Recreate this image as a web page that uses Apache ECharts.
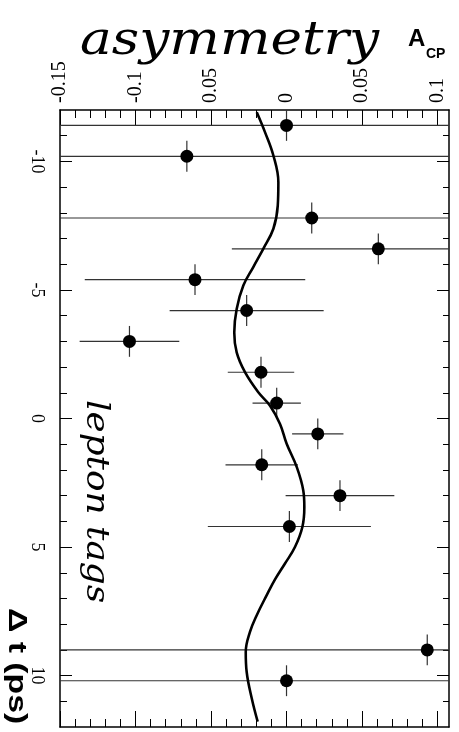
<!DOCTYPE html>
<html>
<head>
<meta charset="utf-8">
<script src="https://cdn.jsdelivr.net/npm/echarts@6/dist/echarts.min.js"></script>
<style>
html,body{margin:0;padding:0;background:#fff;}
#chart{width:459px;height:732px;}
</style>
</head>
<body>
<div id="chart"></div>
<script>
// ---- data ----
var dtCenters = [-11.4, -10.2, -7.8, -6.6, -5.4, -4.2, -3.0, -1.8, -0.6, 0.6, 1.8, 3.0, 4.2, 9.0, 10.2];
var acpValues = [0.000, -0.066, 0.0167, 0.0608, -0.0606, -0.0264, -0.104, -0.0169, -0.0065, 0.0207, -0.0164, 0.0354, 0.0019, 0.0932, 0.000];
var acpErrors = [0.3, 0.3, 0.3, 0.097, 0.073, 0.051, 0.033, 0.022, 0.016, 0.017, 0.024, 0.036, 0.054, 0.3, 0.3];
var dtHalfWidths = [0.6, 0.6, 0.6, 0.6, 0.6, 0.6, 0.6, 0.6, 0.6, 0.6, 0.6, 0.6, 0.6, 0.6, 0.6];

var fitT = [-11.91, -11.13, -10.23, -9.19, -8.28, -7.38, -6.60, -5.89, -5.17, -4.26, -3.35, -2.57, -1.80, -1.02, -0.50, 0.21, 0.98, 1.89, 2.80, 3.44, 4.22, 5.00, 5.64, 6.26, 6.87, 7.65, 8.30, 9.08, 9.85, 10.89, 11.79];
var fitA = [-0.0197, -0.0142, -0.0087, -0.0054, -0.0058, -0.0087, -0.0154, -0.0220, -0.0286, -0.0330, -0.0346, -0.0330, -0.0275, -0.0187, -0.0109, -0.0043, 0.0001, 0.0068, 0.0111, 0.0118, 0.0105, 0.0056, -0.0010, -0.0076, -0.0131, -0.0197, -0.0242, -0.0270, -0.0264, -0.0230, -0.0191];

var xTickValues = [-0.15, -0.1, -0.05, 0, 0.05, 0.1];
var xTickLabels = ['-0.15', '-0.1', '0.05', '0', '0.05', '0.1'];
var xMinorTicks = [-0.15, -0.14, -0.13, -0.12, -0.11, -0.1, -0.09, -0.08, -0.07, -0.06, -0.05, -0.04, -0.03, -0.02, -0.01, 0, 0.01, 0.02, 0.03, 0.04, 0.05, 0.06, 0.07, 0.08, 0.09, 0.1];
var yTickValues = [-10, -5, 0, 5, 10];
var yTickLabels = ['-10', '-5', '0', '5', '10'];
var yMinorTicks = [-11, -10, -9, -8, -7, -6, -5, -4, -3, -2, -1, 0, 1, 2, 3, 4, 5, 6, 7, 8, 9, 10, 11];

var X_MIN = -0.15, X_MAX = 0.1076, Y_MIN = -12, Y_MAX = 12;

// ---- build ----
var pts = dtCenters.map(function (t, i) { return [acpValues[i], t, acpErrors[i], dtHalfWidths[i]]; });
var fit = fitT.map(function (t, i) { return [fitA[i], t]; });

function lookup(vals, labels) {
  return function (v) {
    for (var i = 0; i < vals.length; i++) if (Math.abs(vals[i] - v) < 1e-9) return labels[i];
    return '';
  };
}

function xAxisDef(pos, ticks, len, withLabels, withLine) {
  return {
    type: 'value', position: pos, min: X_MIN, max: X_MAX,
    axisLine: { show: withLine, onZero: false, lineStyle: { color: '#000', width: 1.5 } },
    axisTick: { show: true, inside: true, length: len, customValues: ticks, lineStyle: { color: '#000', width: 1 } },
    axisLabel: withLabels ? {
      show: true, customValues: xTickValues, formatter: lookup(xTickValues, xTickLabels),
      rotate: -90, margin: 7, color: '#000', fontFamily: 'Liberation Serif', fontSize: 20
    } : { show: false },
    splitLine: { show: false }
  };
}
function yAxisDef(pos, ticks, len, withLabels, withLine) {
  return {
    type: 'value', position: pos, min: Y_MIN, max: Y_MAX, inverse: true,
    axisLine: { show: withLine, onZero: false, lineStyle: { color: '#000', width: 1.5 } },
    axisTick: { show: true, inside: true, length: len, customValues: ticks, lineStyle: { color: '#000', width: 1 } },
    axisLabel: withLabels ? {
      show: true, customValues: yTickValues, formatter: lookup(yTickValues, yTickLabels),
      rotate: -90, margin: 14, color: '#000', fontFamily: 'Liberation Serif', fontSize: 18
    } : { show: false },
    splitLine: { show: false }
  };
}

var chart = echarts.init(document.getElementById('chart'), null, { renderer: 'canvas' });
chart.setOption({
  animation: false,
  backgroundColor: '#fff',
  grid: { left: 60, right: 10, top: 110, bottom: 5, containLabel: false },
  xAxis: [
    xAxisDef('top', xTickValues, 16, true, true),
    xAxisDef('top', xMinorTicks, 8, false, false),
    xAxisDef('bottom', xTickValues, 16, false, true),
    xAxisDef('bottom', xMinorTicks, 8, false, false)
  ],
  yAxis: [
    yAxisDef('left', yTickValues, 12, true, true),
    yAxisDef('left', yMinorTicks, 7, false, false),
    yAxisDef('right', yTickValues, 12, false, true),
    yAxisDef('right', yMinorTicks, 6, false, false)
  ],
  graphic: [
    { type: 'text', x: 80, y: 65, scaleX: 1.16, z: 10,
      style: { text: 'asymmetry', fontFamily: 'DejaVu Serif', fontStyle: 'italic', fontSize: 46, fill: '#000', textAlign: 'left', textVerticalAlign: 'bottom' } },
    { type: 'text', x: 408, y: 51, z: 10,
      style: { text: 'A', fontFamily: 'Liberation Sans', fontWeight: 'bold', fontSize: 24, fill: '#000', textAlign: 'left', textVerticalAlign: 'bottom' } },
    { type: 'text', x: 426, y: 61, z: 10,
      style: { text: 'CP', fontFamily: 'Liberation Sans', fontWeight: 'bold', fontSize: 14, fill: '#000', textAlign: 'left', textVerticalAlign: 'bottom' } },
    { type: 'text', x: 95, y: 400, rotation: -Math.PI / 2, scaleX: 1.12, z: 10,
      style: { text: 'lepton tags', fontFamily: 'DejaVu Serif', fontStyle: 'italic', fontSize: 32, fill: '#000', textAlign: 'left', textVerticalAlign: 'middle' } },
    { type: 'text', x: 16, y: 608, rotation: -Math.PI / 2, scaleX: 1.3, z: 10,
      style: { text: '\u0394 t (ps)', fontFamily: 'Liberation Sans', fontWeight: 'bold', fontSize: 26, fill: '#000', textAlign: 'left', textVerticalAlign: 'middle' } }
  ],
  series: [
    {
      type: 'custom', xAxisIndex: 0, yAxisIndex: 0, clip: true, z: 2,
      data: pts,
      renderItem: function (params, api) {
        var a = api.value(0), t = api.value(1), ea = api.value(2), et = api.value(3);
        var l = api.coord([a - ea, t]), r = api.coord([a + ea, t]);
        var u = api.coord([a, t - et]), d = api.coord([a, t + et]);
        var st = { stroke: '#333', lineWidth: 1.2 };
        return { type: 'group', children: [
          { type: 'line', shape: { x1: l[0], y1: l[1], x2: r[0], y2: r[1] }, style: st },
          { type: 'line', shape: { x1: u[0], y1: u[1], x2: d[0], y2: d[1] }, style: st }
        ] };
      }
    },
    {
      type: 'line', xAxisIndex: 0, yAxisIndex: 0, data: fit, smooth: 0.4, showSymbol: false, symbol: 'none', z: 3,
      lineStyle: { color: '#000', width: 2.6 }
    },
    {
      type: 'scatter', xAxisIndex: 0, yAxisIndex: 0, data: pts.map(function (p) { return [p[0], p[1]]; }),
      symbol: 'circle', symbolSize: 13, itemStyle: { color: '#000', opacity: 1 }, z: 4
    }
  ]
});
</script>
</body>
</html>
